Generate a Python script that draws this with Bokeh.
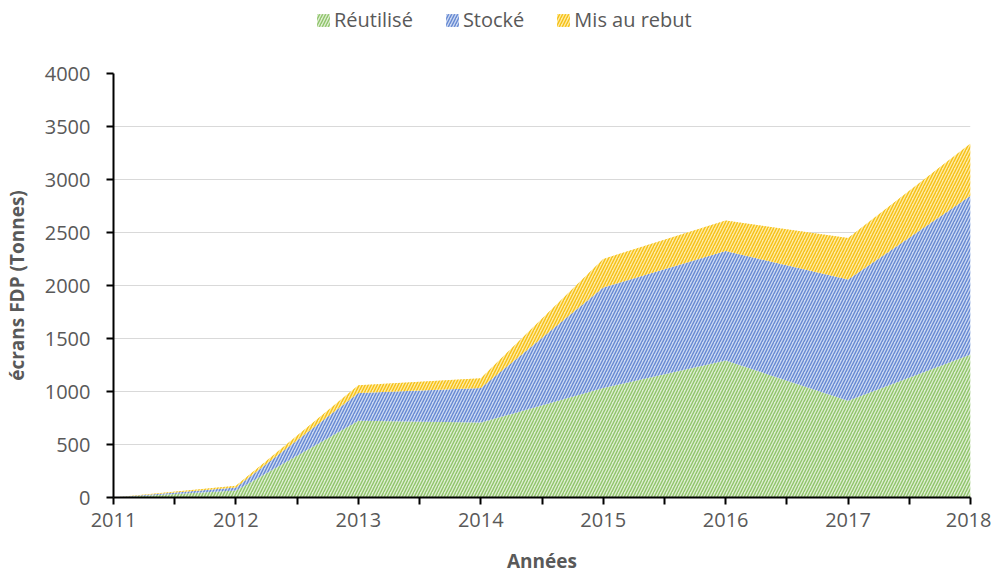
from bokeh.plotting import figure
from bokeh.layouts import column
from bokeh.models import Legend, LegendItem, FixedTicker, Range1d, ColumnDataSource
from bokeh.embed import file_html
from bokeh.resources import INLINE

years = [2011, 2012, 2013, 2014, 2015, 2016, 2017, 2018]
reutilise = [0, 65, 725, 707, 1033, 1293, 912, 1349]
stocke = [0, 30, 261, 326, 948, 1033, 1144, 1498]
rebut = [0, 15, 74, 92, 270, 288, 391, 493]
series_names = ["Réutilisé", "Stocké", "Mis au rebut"]
y_ticks = [0, 500, 1000, 1500, 2000, 2500, 3000, 3500, 4000]

src = ColumnDataSource(dict(x=years, r=reutilise, s=stocke, m=rebut))

fills = ["#deeed2", "#ccd9f2", "#ffeba3"]
hatches = ["#8fc46a", "#6588d2", "#f5c015"]
hatch_kw = dict(hatch_pattern="/", hatch_scale=6, hatch_weight=1.4)

# legend strip above the chart (dummy areas placed outside its visible range)
lg = figure(width=991, height=36, output_backend="svg", toolbar_location=None,
            x_range=Range1d(0, 1), y_range=Range1d(0, 1))
lg.min_border = 0
lg.outline_line_color = None
lg.axis.visible = False
lg.grid.visible = False
lsrc = ColumnDataSource(dict(x=[5, 6], y1=[5, 5], y2=[6, 6]))
lrends = [lg.varea(x="x", y1="y1", y2="y2", source=lsrc, fill_color=f, hatch_color=h, **hatch_kw)
          for f, h in zip(fills, hatches)]
items = [LegendItem(label=n, renderers=[r]) for n, r in zip(series_names, lrends)]
legend = Legend(items=items, orientation="horizontal", location=(202, 3),
                label_text_font="Open Sans", label_text_font_size="20px",
                label_text_color="#595959", glyph_width=16, glyph_height=16,
                spacing=31, label_standoff=3, border_line_color=None,
                background_fill_alpha=0, padding=0, margin=0)
lg.add_layout(legend, "center")

p = figure(width=991, height=540, output_backend="svg", toolbar_location=None,
           x_range=Range1d(2011, 2018), y_range=Range1d(0, 4000))
p.min_border_left = 113
p.min_border_right = 21
p.min_border_top = 37
p.min_border_bottom = 73
p.outline_line_color = None

p.varea_stack(["r", "s", "m"], x="x", source=src,
              fill_color=fills, hatch_color=hatches, **hatch_kw)

p.xaxis.ticker = FixedTicker(ticks=years, minor_ticks=[y + 0.5 for y in years[:-1]])
p.yaxis.ticker = FixedTicker(ticks=y_ticks)
p.xgrid.visible = False
p.ygrid.grid_line_color = "#d9d9d9"
p.ygrid.grid_line_width = 1

for ax in (p.xaxis, p.yaxis):
    ax.axis_line_color = "black"
    ax.axis_line_width = 2
    ax.major_tick_line_color = "black"
    ax.major_tick_line_width = 2
    ax.major_tick_out = 7
    ax.major_tick_in = 0
    ax.major_label_text_font = "Open Sans"
    ax.major_label_text_color = "#595959"
    ax.major_label_text_font_size = "20px"
    ax.axis_label_text_font = "Open Sans"
    ax.axis_label_text_font_style = "bold"
    ax.axis_label_text_color = "#595959"
    ax.axis_label_text_font_size = "19px"

p.xaxis.minor_tick_line_color = "black"
p.xaxis.minor_tick_line_width = 2
p.xaxis.minor_tick_out = 7
p.xaxis.minor_tick_in = 0
p.yaxis.minor_tick_line_color = None
p.xaxis.major_label_standoff = 8
p.yaxis.major_label_standoff = 16
p.xaxis.axis_label = "Années"
p.yaxis.axis_label = "écrans FDP (Tonnes)"
p.xaxis.axis_label_standoff = 18
p.yaxis.axis_label_standoff = 12

layout = column(lg, p, spacing=0)
open("out.html", "w").write(file_html(layout, INLINE))
